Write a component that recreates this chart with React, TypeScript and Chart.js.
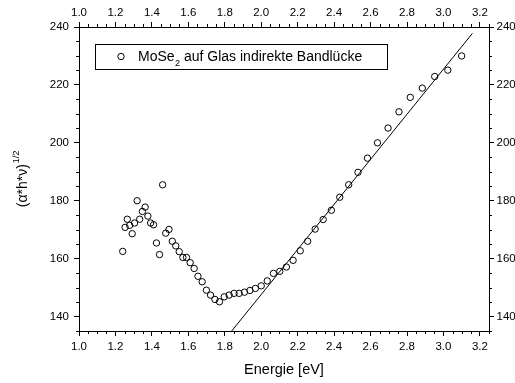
import React, { useEffect, useRef } from "react";
import { Chart, registerables } from "chart.js";

Chart.register(...registerables);

const FONT = "'Liberation Sans', Arial, Helvetica, sans-serif";

// Photon energy [eV] of each measured point
const energy = [
  1.24, 1.253, 1.265, 1.278, 1.292, 1.305, 1.319, 1.333, 1.348, 1.363,
  1.378, 1.393, 1.409, 1.425, 1.442, 1.459, 1.476, 1.494, 1.512, 1.531,
  1.55, 1.57, 1.59, 1.61, 1.632, 1.653, 1.676, 1.699, 1.722, 1.746,
  1.771, 1.797, 1.824, 1.851, 1.879, 1.908, 1.938, 1.968, 2.0, 2.033,
  2.067, 2.102, 2.138, 2.175, 2.214, 2.255, 2.296, 2.34, 2.385, 2.431,
  2.48, 2.531, 2.583, 2.638, 2.696, 2.756, 2.818, 2.884, 2.952, 3.024,
  3.1,
];

// (alpha*h*nu)^(1/2) values
const sqrtAlphaHv = [
  162.5, 170.8, 173.6, 171.5, 168.6, 172.3, 180.0, 173.6, 176.3, 177.8,
  174.7, 172.3, 171.7, 165.4, 161.4, 185.5, 168.8, 170.1, 166.0, 164.4,
  162.4, 160.4, 160.4, 158.6, 156.6, 153.9, 152.0, 149.1, 147.4, 145.9,
  145.1, 146.8, 147.4, 148.0, 148.0, 148.4, 149.0, 149.7, 150.6, 152.3,
  154.9, 155.6, 157.1, 159.4, 162.7, 166.0, 170.2, 173.5, 176.7, 181.2,
  185.5, 189.8, 194.7, 200.0, 205.1, 210.7, 215.7, 218.9, 222.9, 225.1,
  230.0,
];

// Linear fit (indirect band gap extrapolation)
const fitEnergy = [1.838, 3.159];
const fitValue = [135, 237.8];

const legendLabel = ["MoSe", "2", " auf Glas indirekte Bandlücke"];
const yTitle = ["(\u03B1*h*\u03BD)", "1/2"];
const xTitle = "Energie [eV]";

const X_MIN = 1.0;
const X_MAX = 3.25;
const Y_MIN = 135;
const Y_MAX = 240;

const minorTicks = {
  id: "minorTicks",
  afterDraw(chart: any) {
    const ctx = chart.ctx;
    const area = chart.chartArea;
    ctx.save();
    ctx.strokeStyle = "#000";
    ctx.lineWidth = 1;
    const defs = [
      { id: "x", step: 0.05, major: 0.2 },
      { id: "x2", step: 0.05, major: 0.2 },
      { id: "y", step: 5, major: 20 },
      { id: "y2", step: 5, major: 20 },
    ];
    for (const d of defs) {
      const s = chart.scales[d.id];
      if (!s) continue;
      const n0 = Math.ceil(s.min / d.step - 1e-9);
      const n1 = Math.floor(s.max / d.step + 1e-9);
      for (let n = n0; n <= n1; n++) {
        const v = n * d.step;
        const r = v / d.major;
        if (Math.abs(r - Math.round(r)) < 1e-6) continue;
        const p = Math.round(s.getPixelForValue(v)) + 0.5;
        ctx.beginPath();
        if (d.id === "x") {
          ctx.moveTo(p, area.bottom);
          ctx.lineTo(p, area.bottom + 3);
        } else if (d.id === "x2") {
          ctx.moveTo(p, area.top);
          ctx.lineTo(p, area.top - 3);
        } else if (d.id === "y") {
          ctx.moveTo(area.left, p);
          ctx.lineTo(area.left - 3, p);
        } else {
          ctx.moveTo(area.right, p);
          ctx.lineTo(area.right + 3, p);
        }
        ctx.stroke();
      }
    }
    ctx.restore();
  },
};

const customText = {
  id: "customText",
  afterDraw(chart: any) {
    const ctx = chart.ctx;
    const area = chart.chartArea;
    ctx.save();
    ctx.fillStyle = "#000";
    ctx.strokeStyle = "#000";
    // y-axis title with superscript
    ctx.translate(23, (area.top + area.bottom) / 2);
    ctx.rotate(-Math.PI / 2);
    ctx.textBaseline = "middle";
    ctx.font = `14px ${FONT}`;
    const w1 = ctx.measureText(yTitle[0]).width;
    ctx.font = `9.5px ${FONT}`;
    const w2 = ctx.measureText(yTitle[1]).width;
    const start = -(w1 + w2) / 2;
    ctx.font = `14px ${FONT}`;
    ctx.textAlign = "left";
    ctx.fillText(yTitle[0], start, 0);
    ctx.font = `9.5px ${FONT}`;
    ctx.fillText(yTitle[1], start + w1 + 0.5, -7);
    ctx.restore();

    // legend box
    ctx.save();
    ctx.strokeStyle = "#000";
    ctx.lineWidth = 1;
    ctx.strokeRect(95.5, 44.5, 292, 25);
    ctx.beginPath();
    ctx.arc(121, 56.5, 3.2, 0, Math.PI * 2);
    ctx.stroke();
    ctx.fillStyle = "#000";
    ctx.textBaseline = "middle";
    ctx.textAlign = "left";
    let x = 138;
    ctx.font = `14px ${FONT}`;
    ctx.fillText(legendLabel[0], x, 57);
    x += ctx.measureText(legendLabel[0]).width;
    ctx.font = `9px ${FONT}`;
    ctx.fillText(legendLabel[1], x + 0.5, 63.5);
    x += ctx.measureText(legendLabel[1]).width + 0.5;
    ctx.font = `14px ${FONT}`;
    ctx.fillText(legendLabel[2], x, 57);
    ctx.restore();
  },
};

function axisCommon(position: string) {
  const horizontal = position === "top" || position === "bottom";
  return {
    type: "linear" as const,
    position,
    min: horizontal ? X_MIN : Y_MIN,
    max: horizontal ? X_MAX : Y_MAX,
    border: { display: true, color: "#000", width: 1 },
    grid: {
      drawOnChartArea: false,
      drawTicks: true,
      tickLength: 5,
      color: "#000",
      tickColor: "#000",
      tickWidth: 1,
    },
    ticks: {
      stepSize: horizontal ? 0.2 : 20,
      includeBounds: false,
      autoSkip: false,
      maxRotation: 0,
      color: "#000",
      font: { family: FONT, size: 11.5 },
      padding: position === "left" ? 5 : position === "right" ? 2.5 : position === "top" ? 2 : 4,
      callback: (v: any) => (horizontal ? Number(v).toFixed(1) : String(Math.round(Number(v)))),
    },
  };
}

export default function App() {
  const ref = useRef<HTMLCanvasElement | null>(null);
  useEffect(() => {
    if (!ref.current) return;
    const chart = new Chart(ref.current, {
      type: "scatter",
      data: {
        datasets: [
          {
            label: legendLabel.join(""),
            data: energy.map((e, i) => ({ x: e, y: sqrtAlphaHv[i] })),
            showLine: false,
            pointStyle: "circle",
            pointRadius: 3.2,
            pointBorderWidth: 1,
            borderColor: "#000",
            backgroundColor: "rgba(255,255,255,0)",
            xAxisID: "x",
            yAxisID: "y",
          },
          {
            label: "fit",
            data: fitEnergy.map((e, i) => ({ x: e, y: fitValue[i] })),
            showLine: true,
            pointRadius: 0,
            borderColor: "#000",
            borderWidth: 1,
            xAxisID: "x",
            yAxisID: "y",
          },
        ],
      },
      options: {
        responsive: false,
        animation: false,
        devicePixelRatio: 1,
        layout: { padding: 0 },
        plugins: { legend: { display: false }, tooltip: { enabled: false } },
        scales: {
          x: {
            ...axisCommon("bottom"),
            afterFit: (s: any) => {
              s.height = 52;
            },
            title: {
              display: true,
              text: xTitle,
              color: "#000",
              font: { family: FONT, size: 14.5 },
              padding: { top: 0, bottom: 4.5 },
            },
          },
          x2: {
            ...axisCommon("top"),
            afterFit: (s: any) => {
              s.height = 27;
            },
          },
          y: {
            ...axisCommon("left"),
            afterFit: (s: any) => {
              s.width = 79;
            },
          },
          y2: {
            ...axisCommon("right"),
            afterFit: (s: any) => {
              s.width = 26;
            },
          },
        } as any,
      },
      plugins: [minorTicks, customText],
    } as any);
    return () => chart.destroy();
  }, []);

  return (
    <div
      style={{
        position: "fixed",
        left: 0,
        top: 0,
        width: 515,
        height: 383,
        background: "#fff",
      }}
    >
      <canvas ref={ref} width={515} height={383} style={{ display: "block" }} />
    </div>
  );
}
